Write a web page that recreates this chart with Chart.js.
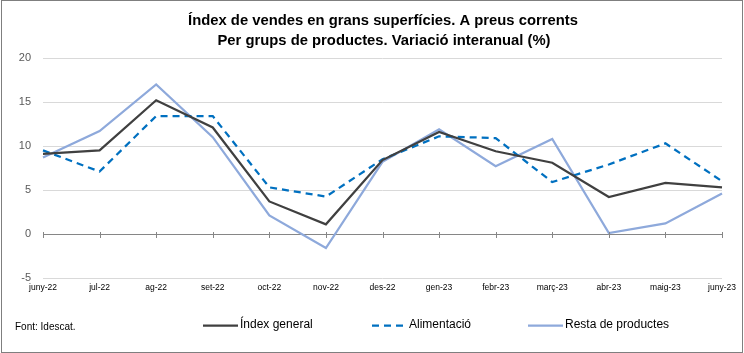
<!DOCTYPE html>
<html>
<head>
<meta charset="utf-8">
<script src="https://cdn.jsdelivr.net/npm/chart.js@4/dist/chart.umd.min.js"></script>
<style>
html,body{margin:0;padding:0;background:#fff;}
#wrap{width:744px;height:353px;position:relative;}
</style>
</head>
<body>
<div id="wrap"><canvas id="c" width="744" height="353"></canvas></div>
<script>
const categories = ['juny-22','jul-22','ag-22','set-22','oct-22','nov-22','des-22','gen-23','febr-23','març-23','abr-23','maig-23','juny-23'];
const indexGeneral = [9.1, 9.5, 15.2, 12.1, 3.7, 1.1, 8.4, 11.6, 9.4, 8.1, 4.2, 5.8, 5.3];
const alimentacio = [9.5, 7.1, 13.4, 13.4, 5.3, 4.25, 8.5, 11.1, 10.9, 5.9, 7.9, 10.3, 6.0];
const restaProductes = [8.7, 11.7, 17.0, 11.0, 2.1, -1.6, 8.2, 11.9, 7.7, 10.8, 0.1, 1.2, 4.6];
const yTicks = [-5, 0, 5, 10, 15, 20];
const titleLines = ['Índex de vendes en grans superfícies. A preus corrents', 'Per grups de productes. Variació interanual (%)'];
const sourceText = 'Font: Idescat.';

const NARROW = '"Liberation Sans Narrow", "Arial Narrow", "Liberation Sans", Arial, sans-serif';
const SANS = '"Liberation Sans", Arial, sans-serif';

const framePlugin = {
  id: 'frame',
  beforeDraw(chart) {
    const ctx = chart.ctx;
    ctx.save();
    ctx.fillStyle = '#ffffff';
    ctx.fillRect(0, 0, chart.width, chart.height);
    ctx.restore();
  },
  afterDraw(chart) {
    const ctx = chart.ctx;
    const x = chart.scales.x, y = chart.scales.y;
    ctx.save();
    // zero-line tick marks
    const y0 = y.getPixelForValue(0);
    ctx.strokeStyle = '#868686';
    ctx.lineWidth = 1;
    ctx.beginPath();
    for (let i = 0; i < categories.length; i++) {
      const px = Math.round(x.getPixelForValue(i)) + 0.5;
      ctx.moveTo(px, y0 - 2);
      ctx.lineTo(px, y0 + 4);
    }
    ctx.stroke();
    // title
    ctx.fillStyle = '#000000';
    ctx.font = 'bold 14.8px ' + NARROW;
    ctx.textAlign = 'center';
    ctx.textBaseline = 'middle';
    ctx.fillText(titleLines[0], 383, 21);
    ctx.fillText(titleLines[1], 384, 41);
    // source
    ctx.font = '10px ' + NARROW;
    ctx.textAlign = 'left';
    ctx.fillText(sourceText, 15, 327);
    // legend
    const items = [
      {ds: 0, x1: 203, x2: 238},
      {ds: 1, x1: 372, x2: 407},
      {ds: 2, x1: 528, x2: 563}
    ];
    ctx.font = '12px ' + SANS;
    items.forEach(it => {
      const ds = chart.data.datasets[it.ds];
      ctx.strokeStyle = ds.borderColor;
      ctx.lineWidth = ds.borderWidth;
      ctx.setLineDash(ds.borderDash || []);
      ctx.beginPath();
      ctx.moveTo(it.x1, 325.5);
      ctx.lineTo(it.x2, 325.5);
      ctx.stroke();
      ctx.setLineDash([]);
      ctx.fillStyle = '#000';
      ctx.fillText(ds.label, it.x2 + 2, 325);
    });
    // outer frame
    ctx.strokeStyle = '#7f7f7f';
    ctx.lineWidth = 1;
    ctx.strokeRect(1.5, 0.5, chart.width - 3, chart.height - 1);
    ctx.restore();
  }
};

new Chart(document.getElementById('c'), {
  type: 'line',
  data: {
    labels: categories,
    datasets: [
      {label: 'Índex general', data: indexGeneral, borderColor: '#404040', borderWidth: 2.25, pointRadius: 0, tension: 0, fill: false},
      {label: 'Alimentació', data: alimentacio, borderColor: '#0070C0', borderWidth: 2.25, borderDash: [7, 5], pointRadius: 0, tension: 0, fill: false},
      {label: 'Resta de productes', data: restaProductes, borderColor: '#8EA9DB', borderWidth: 2.25, pointRadius: 0, tension: 0, fill: false}
    ]
  },
  options: {
    responsive: false,
    animation: false,
    events: [],
    layout: {padding: {left: 0, right: 22, top: 58, bottom: 0}},
    plugins: {legend: {display: false}, title: {display: false}, tooltip: {enabled: false}},
    scales: {
      x: {
        offset: false,
        grid: {display: false, drawTicks: false},
        border: {display: false},
        ticks: {color: '#000', font: {family: NARROW, size: 8.5}, padding: 5, maxRotation: 0, autoSkip: false},
        afterFit(s) { s.height = 75; }
      },
      y: {
        min: -5, max: 20,
        afterBuildTicks(s) { s.ticks = yTicks.map(v => ({value: v})); },
        grid: {color: c => c.tick && c.tick.value === 0 ? '#868686' : '#d9d9d9', lineWidth: 1, drawTicks: false},
        border: {display: false},
        ticks: {color: '#595959', font: {family: SANS, size: 11}, padding: 12},
        afterFit(s) { s.width = 43; }
      }
    }
  },
  plugins: [framePlugin]
});
</script>
</body>
</html>
